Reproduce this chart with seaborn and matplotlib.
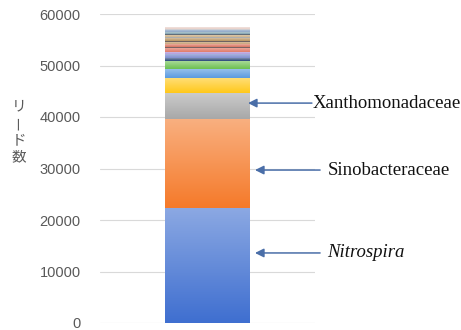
import numpy as np
import pandas as pd
import matplotlib
matplotlib.use("Agg")
import matplotlib.pyplot as plt
import matplotlib.colors as mcolors
import seaborn as sns

# ---- data (bottom -> top) ----
taxa = ["Nitrospira", "Sinobacteraceae", "Xanthomonadaceae", "t4", "t5", "t6",
        "t7", "t8", "t9", "t10", "t11", "t12", "t13", "t14", "t15", "t16",
        "t17", "t18", "t19", "t20", "t21", "t22"]
reads = [22400, 17200, 5000, 2900, 1900, 1470,
         580, 780, 390, 780, 190, 580, 390, 200, 580, 190,
         390, 200, 380, 390, 200, 310]
colors = ["#3f6fd0", "#f57a2a", "#a8a8a8", "#ffc81a", "#5b9be0", "#6cc050",
          "#264478", "#7f8fd0", "#b39ddb", "#e07b6a", "#5a3b3b", "#d9735f",
          "#c9a57a", "#5b5050", "#b8935e", "#9a9a9a", "#cfb38a", "#4f5d6b",
          "#7fa2b0", "#8fa8c8", "#c8c8cc", "#e8cfc8"]
yticks = [0, 10000, 20000, 30000, 40000, 50000, 60000]
ylabel_chars = ["リ", "ー", "ド", "数"]
labels = [("Xanthomonadaceae", 42700, "normal"),
          ("Sinobacteraceae", 29700, "normal"),
          ("Nitrospira", 13600, "italic")]

df = pd.DataFrame({"taxon": taxa, "reads": reads, "color": colors})
df["top"] = df["reads"].cumsum()
df["bottom"] = df["top"] - df["reads"]

sns.set_theme(style="white")
plt.rcParams["font.family"] = ["Liberation Sans", "Noto Sans CJK JP"]

fig = plt.figure(figsize=(4.61, 3.30), dpi=100)
ax = fig.add_axes([100/461, 1-323/330, 215/461, 309/330])

# stacked bar via cumulative totals (largest first)
patches = {}
for i in reversed(range(len(df))):
    n_before = len(ax.patches)
    sns.barplot(x=["s"], y=[df["top"][i]], color=df["color"][i], width=0.8,
                ax=ax, saturation=1, edgecolor="none")
    patches[i] = ax.patches[n_before]

# vertical gradient per segment (lighter top, base colour bottom)
for i in range(len(df)):
    p = patches[i]
    base = np.array(mcolors.to_rgb(df["color"][i]))
    light = base + (1 - base) * 0.40
    t = np.linspace(0, 1, 64)[:, None]
    grad = (light[None, :] * (1 - t) + base[None, :] * t)[:, None, :]
    x0 = p.get_x()
    im = ax.imshow(grad, extent=(x0, x0 + p.get_width(), df["bottom"][i], df["top"][i]),
                   origin="upper", aspect="auto", zorder=3, interpolation="bilinear")
    im.set_clip_path(p)

ax.set_xlim(-1.012, 1.012)
ax.set_ylim(0, 60000)
ax.set_yticks(yticks)
ax.set_yticklabels([str(v) for v in yticks])
ax.set_xticks([])
ax.set_xlabel("")
ax.set_ylabel("")
ax.yaxis.grid(True, color="#d9d9d9", linewidth=0.8)
ax.set_axisbelow(True)
for s in ax.spines.values():
    s.set_visible(False)
ax.tick_params(axis="y", length=0, pad=14, labelcolor="#595959", labelsize=10.5)

# annotations
arrow_col = "#4a6ea8"
tips = {"Xanthomonadaceae": (0.381, 0.983, 0.99),
        "Sinobacteraceae": (0.447, 1.06, 1.13),
        "Nitrospira": (0.447, 1.06, 1.13)}
for name, yv, style in labels:
    tip, tail, tx = tips[name]
    ax.annotate("", xy=(tip, yv), xytext=(tail, yv),
                arrowprops=dict(arrowstyle="-|>", color=arrow_col, lw=1.1,
                                mutation_scale=13, shrinkA=0, shrinkB=0),
                annotation_clip=False, zorder=5)
    ax.text(tx, yv, name, ha="left", va="center", fontsize=13.5,
            family="Liberation Serif", style=style, color="#111111", clip_on=False)

# vertical y-axis label (vertical writing: ー drawn upright as a vertical bar)
ys = [106, 123, 140, 157]
for ch, yp in zip(ylabel_chars, ys):
    fig.text(19/461, 1 - yp/330, ch, ha="center", va="center", fontsize=10.5,
             color="#595959", family=["Noto Sans CJK JP"],
             rotation=90 if ch == "ー" else 0)

fig.savefig("out.png", dpi=100)
